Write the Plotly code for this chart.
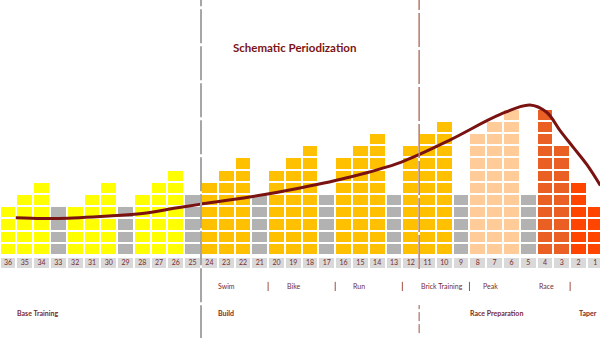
import plotly.graph_objects as go

# ---------------- data ----------------
weeks = list(range(36, 0, -1))  # 36 ... 1
blocks = [4, 5, 6, 4, 4, 5, 6, 4, 5, 6, 7, 5,
          6, 7, 8, 5, 7, 8, 9, 5, 8, 9, 10, 5,
          9, 10, 11, 5, 10, 11, 12, 5, 12, 9, 6, 4]
phase = (["base"] * 3 + ["rec"] + ["base"] * 3 + ["rec"] + ["base"] * 3 + ["rec"]
         + ["build"] * 3 + ["rec"] + ["build"] * 3 + ["rec"] + ["build"] * 3 + ["rec"]
         + ["build"] * 3 + ["rec"] + ["peak"] * 3 + ["rec"] + ["race"] * 2 + ["taper"] * 2)
phase_colors = {"base": "#FFFF00", "rec": "#B2B2B2", "build": "#FFC000",
                "peak": "#FFCC99", "race": "#EA5F24", "taper": "#FF4500"}

# load curve (week position, load in block units)
curve_week = [35.54, 34, 33, 30, 28, 26, 24.6, 21.6, 18.6, 15.6, 12.6, 9.7, 6.7,
              4.9, 3.9, 3.1, 2.3, 1.5, 0.7]
curve_load = [3.06, 3.0, 3.0, 3.2, 3.4, 3.85, 4.15, 4.75, 5.5, 6.4, 7.6, 9.4, 11.5,
              12.3, 11.7, 10.2, 8.8, 7.4, 5.7]

sub_labels = ["Swim", "Bike", "Run", "Brick Training", "Peak", "Race"]
sub_label_week = [23.6, 19.5, 15.55, 11.5, 7.8, 4.5]
sub_separators_week = [20.5, 16.5, 12.5, 8.5, 2.5]
main_labels = ["Base Training", "Build", "Race Preparation", "Taper"]
main_label_week = [35.6, 23.6, 8.6, 2.1]
title_text = "Schematic Periodization"

# ---------------- figure ----------------
xpos = [36 - w for w in weeks]
colors = [phase_colors[p] for p in phase]
RED = "#7A1212"
TXT = "#7B2A2A"

fig = go.Figure()
maxb = max(blocks)
for lvl in range(1, maxb + 1):
    xs = [x for x, b in zip(xpos, blocks) if b >= lvl]
    cs = [c for c, b in zip(colors, blocks) if b >= lvl]
    fig.add_trace(go.Bar(x=xs, y=[1] * len(xs), base=[lvl - 1] * len(xs), width=1.0,
                         marker=dict(color=cs, line=dict(color="white", width=2)),
                         showlegend=False, hoverinfo="skip"))

# week number row
fig.add_trace(go.Bar(x=xpos, y=[0.99] * len(xpos), base=[-1.15] * len(xpos), width=1.0,
                     marker=dict(color="#D9D9D9", line=dict(color="white", width=2)),
                     showlegend=False, hoverinfo="skip"))
fig.add_trace(go.Scatter(x=xpos, y=[-0.66] * len(xpos), mode="text",
                         text=[str(w) for w in weeks], textposition="middle center",
                         textfont=dict(size=7, color=TXT, family="Lato"),
                         showlegend=False, hoverinfo="skip"))

# curve
fig.add_trace(go.Scatter(x=[36 - w for w in curve_week], y=curve_load, mode="lines",
                         line=dict(color=RED, width=3, shape="spline", smoothing=1.0),
                         showlegend=False, hoverinfo="skip"))

shapes = []
# dashed phase dividers
shapes.append(dict(type="line", xref="x", yref="y", x0=11.5, x1=11.5, y0=-6.9, y1=21,
                   line=dict(color="#A6A6A6", width=2, dash="34px,3px")))
shapes.append(dict(type="line", xref="x", yref="y", x0=24.5, x1=24.5, y0=-1.15, y1=21,
                   line=dict(color="#B57A6A", width=1.5, dash="34px,3px")))
shapes.append(dict(type="line", xref="x", yref="y", x0=24.5, x1=24.5, y0=-6.4, y1=-4.1,
                   line=dict(color="#A05040", width=1, dash="9px,3px")))
for s in sub_separators_week:
    x = 36 - s
    shapes.append(dict(type="line", xref="x", yref="y", x0=x, x1=x, y0=-2.95, y1=-2.2,
                       line=dict(color="#A05040", width=1)))

annotations = []
for t, w in zip(sub_labels, sub_label_week):
    annotations.append(dict(x=36 - w, y=-2.55, xref="x", yref="y", text=t, showarrow=False,
                            xanchor="left", yanchor="middle",
                            font=dict(size=7, color=TXT, family="Lato")))
for t, w in zip(main_labels, main_label_week):
    annotations.append(dict(x=36 - w, y=-4.75, xref="x", yref="y", text="<b>" + t + "</b>",
                            showarrow=False, xanchor="left", yanchor="middle",
                            font=dict(size=7, color=TXT, family="Lato")))
annotations.append(dict(x=17.1, y=16.97, xref="x", yref="y", text="<b>" + title_text + "</b>",
                        showarrow=False, xanchor="center", yanchor="middle",
                        font=dict(size=11.5, color="#7A1515", family="Lato")))

fig.update_layout(
    width=600, height=338, margin=dict(l=0, r=0, t=0, b=0),
    paper_bgcolor="white", plot_bgcolor="white",
    barmode="overlay", bargap=0,
    xaxis=dict(range=[-0.48, 35.28], visible=False, fixedrange=True),
    yaxis=dict(range=[-6.80, 20.90], visible=False, fixedrange=True),
    shapes=shapes, annotations=annotations,
)
fig.write_html("out.html")
